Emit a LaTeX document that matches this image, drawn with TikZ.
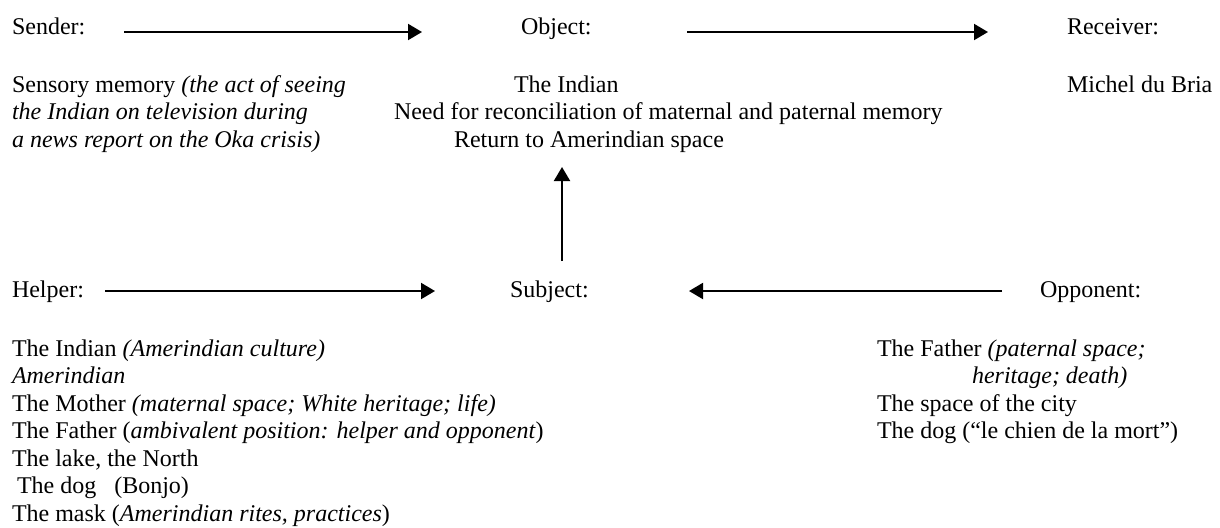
\documentclass[tikz,border=0pt]{standalone}
\usepackage{fontspec}
\setmainfont{Liberation Serif}
\usetikzlibrary{arrows.meta}
\begin{document}
\begin{tikzpicture}[x=0.5pt,y=-0.5pt,
  every node/.style={inner sep=0pt,outer sep=0pt,anchor=base west,
    font=\fontsize{12}{13.75}\selectfont},
  listtext/.style={align=left},
  actant/.style={line width=1pt,-{Triangle[length=7pt,width=8pt]}}]
\useasboundingbox (0,0) rectangle (1220,527);

% top row: sender -> object -> receiver
\node (sender)   at (12,34)   {Sender:};
\node (object)   at (521,34)  {Object:};
\node (receiver) at (1067,34) {Receiver:};

% multi-line lists are placed by the baseline of their last line
\node[listtext] (senderlist) at (12,147)
  {Sensory memory \textit{(the act of seeing}\\
   \textit{the Indian on television during}\\
   \textit{a news report on the Oka crisis)}};

\node (obj1) at (514,92)    {The Indian};
\node (obj2) at (394,119.5) {Need for reconciliation of maternal and paternal memory};
\node (obj3) at (454,147)   {Return to Amerindian space};

\node (receiverlist) at (1067,92) {Michel du Bria};

% bottom row: helper -> subject <- opponent
\node (helper)   at (12,297)   {Helper:};
\node (subject)  at (510,297)  {Subject:};
\node (opponent) at (1040,297) {Opponent:};

\node[listtext] (helperlist) at (12,521)
  {The Indian \textit{(Amerindian culture)}\\
   \textit{Amerindian}\\
   The Mother \textit{(maternal space; White heritage; life)}\\
   The Father (\textit{ambivalent position: helper and opponent})\\
   The lake, the North\\
   \hspace*{2.5pt}The dog\ \ \ (Bonjo)\\
   The mask (\textit{Amerindian rites, practices})};

\node[listtext] (opponentlist) at (877,438.5)
  {The Father \textit{(paternal space;}\\
   \hspace*{47.5pt}\textit{heritage; death)}\\
   The space of the city\\
   The dog (“le chien de la mort”)};

% arrow end points
\coordinate (sa) at (124,32);  \coordinate (sb) at (422,32);
\coordinate (ra) at (687,32);  \coordinate (rb) at (988,32);
\coordinate (ua) at (562,261); \coordinate (ub) at (562,167);
\coordinate (ha) at (105,291); \coordinate (hb) at (435,291);
\coordinate (oa) at (1002,291);\coordinate (ob) at (689,291);

\draw[actant] (sa) -- (sb);
\draw[actant] (ra) -- (rb);
\draw[actant] (ua) -- (ub);
\draw[actant] (ha) -- (hb);
\draw[actant] (oa) -- (ob);
\end{tikzpicture}
\end{document}
